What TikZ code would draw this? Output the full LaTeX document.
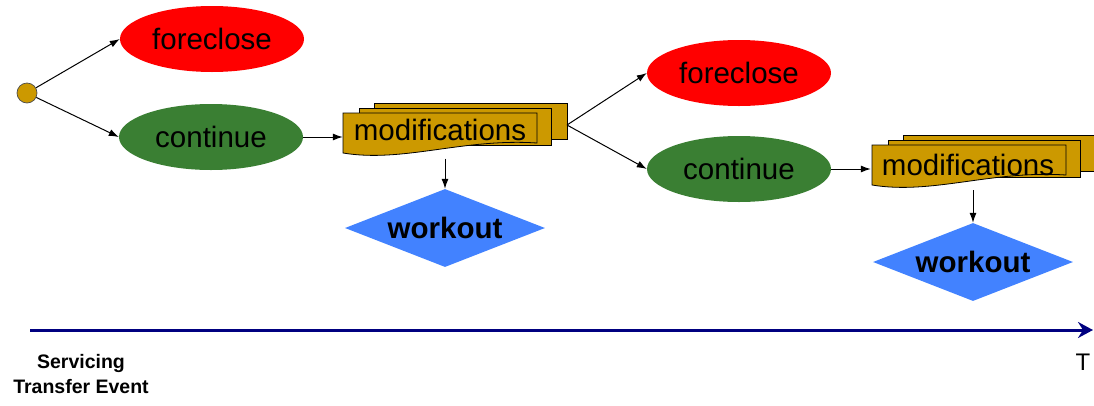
\documentclass[tikz,border=0pt]{standalone}
\usepackage{fontspec}
\setmainfont{Liberation Sans}
\usetikzlibrary{shapes.geometric,arrows.meta}
\definecolor{gold}{HTML}{CC9900}
\definecolor{fred}{HTML}{FF0000}
\definecolor{cgreen}{HTML}{3A7F33}
\definecolor{wblue}{HTML}{4282FF}
\definecolor{tnavy}{HTML}{000080}
\newcommand\multidocshape[2]{%
  \begin{scope}[shift={(#1,#2)}]
    \draw[doc] (31,-10) rectangle (224,26);
    \draw[doc] (16,-5) rectangle (208,32);
    \draw[doc] (0,0) -- (194,0) -- (194,30) .. controls (120,25) and (60,50) .. (0,40) -- cycle;
  \end{scope}}
\begin{document}
\begin{tikzpicture}[x=1pt,y=-1pt,
  ell/.style={ellipse, inner sep=0pt, minimum width=184pt, minimum height=66pt, font=\fontsize{29.5}{30}\selectfont},
  wk/.style={diamond, fill=wblue, inner sep=0pt, minimum width=200pt, minimum height=78pt, aspect=2.6, font=\bfseries\fontsize{29.5}{30}\selectfont},
  arr/.style={-{Latex[length=10pt,width=7pt]}, line width=1pt},
  doc/.style={fill=gold, draw=black, line width=0.8pt},
  modtext/.style={font=\fontsize{29.5}{30}\selectfont, inner sep=0pt, minimum width=194pt},
  lbl/.style={font=\bfseries\fontsize{19.5}{25}\selectfont, align=center}
]
\useasboundingbox (0,0) rectangle (1094,405);

% start
\node[circle, fill=gold, draw=black!70, line width=0.7pt, minimum size=20pt, inner sep=0pt] (s) at (27,93) {};

% first stage
\node[ell, fill=fred] (f1) at (212,39) {foreclose};
\node[ell, fill=cgreen] (c1) at (211,137) {continue};
\multidocshape{343}{113}
\node[modtext, minimum height=58pt] (m1) at (440,129.5) {modifications};
\coordinate (m1r) at (567,125);
\node[wk] (w1) at (445,228) {workout};

\draw[arr] (s) -- (f1.west);
\draw[arr] (s) -- (c1.west);
\draw[arr] (c1.east) -- (c1.east -| m1.west);
\draw[arr] (m1.south -| w1.north) -- (w1.north);

% second stage
\node[ell, fill=fred] (f2) at (739,73) {foreclose};
\node[ell, fill=cgreen] (c2) at (739,169) {continue};
\multidocshape{872}{145}
\node[modtext, minimum height=50pt] (m2) at (968,165) {modifications};
\node[wk] (w2) at (973,262) {workout};

\draw[arr] (m1r) -- (f2.west);
\draw[arr] (m1r) -- (c2.west);
\draw[arr] (c2.east) -- (c2.east -| m2.west);
\draw[arr] (m2.south -| w2.north) -- (w2.north);

% timeline
\coordinate (t0) at (30,330);
\coordinate (t1) at (1093,330);
\draw[tnavy, line width=3pt, -{Stealth[length=15pt,width=16pt,inset=5pt]}] (t0) -- (t1);
\node[lbl] (ev) at (81,374) {Servicing\\Transfer Event};
\node[font=\fontsize{24}{24}\selectfont] (T) at (1083,362) {T};
\end{tikzpicture}
\end{document}
